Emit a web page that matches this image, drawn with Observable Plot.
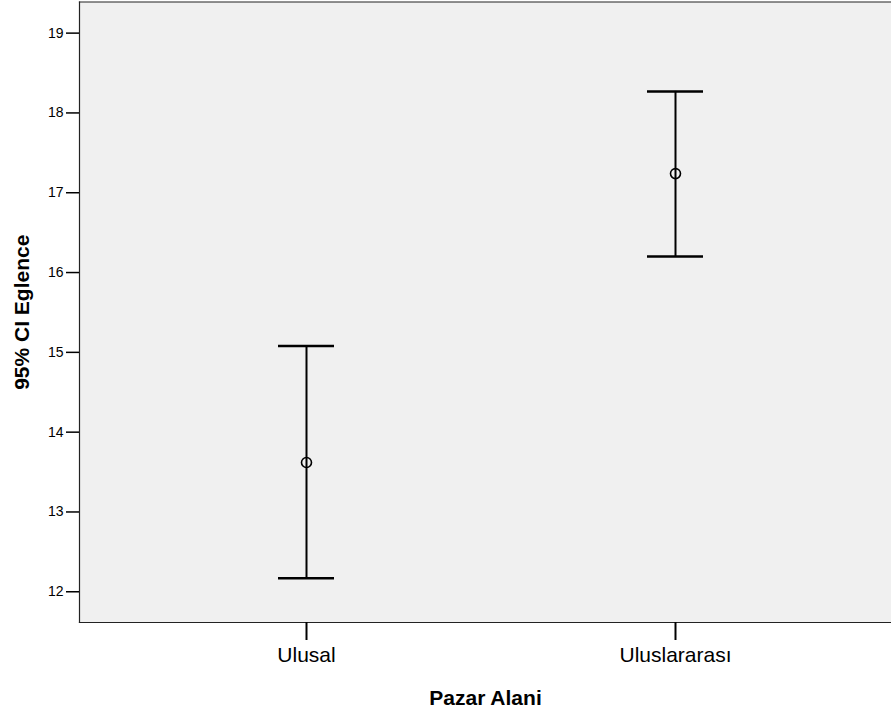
<!DOCTYPE html>
<html>
<head>
<meta charset="utf-8">
<script src="https://cdn.jsdelivr.net/npm/d3@7"></script>
<script src="https://cdn.jsdelivr.net/npm/@observablehq/plot@0.6"></script>
<style>
  html, body { margin: 0; padding: 0; background: #fff; }
  #chart svg { display: block; }
</style>
</head>
<body>
<div id="chart"></div>
<script>
const categories = ["Ulusal", "Uluslararası"];
const means = [13.62, 17.24];
const lower = [12.17, 16.20];
const upper = [15.08, 18.27];
const yTicks = [12, 13, 14, 15, 16, 17, 18, 19];

const data = categories.map((c, i) => ({cat: c, mean: means[i], lo: lower[i], hi: upper[i]}));

const chart = Plot.plot({
  width: 891,
  height: 713,
  marginLeft: 79,
  marginRight: 0,
  marginTop: 1.5,
  marginBottom: 91,
  style: {fontFamily: "'Liberation Sans', Arial, sans-serif", background: "#fff"},
  x: {type: "band", domain: categories, paddingInner: 0.8486, paddingOuter: 0.5216, align: 0.513},
  y: {domain: [11.615, 19.39]},
  marks: [
    Plot.frame({fill: "#f0f0f0", stroke: "none"}),
    Plot.frame({anchor: "left", stroke: "#222", strokeWidth: 1.2}),
    Plot.frame({anchor: "top", stroke: "#222", strokeWidth: 1.2}),
    Plot.frame({anchor: "bottom", stroke: "#222", strokeWidth: 1.2}),
    Plot.axisY({ticks: yTicks, tickSize: 13, tickPadding: 3, fontSize: 14, tickFormat: d => d, stroke: "#000", strokeWidth: 1.5,
      label: "95% CI Eglence", labelAnchor: "center", labelArrow: false, labelOffset: 65}),
    Plot.axisX({tickSize: 18, tickPadding: 7, fontSize: 21, stroke: "#000", strokeWidth: 2,
      label: "Pazar Alani", labelAnchor: "center", labelArrow: false, labelOffset: 82}),
    Plot.ruleX(data, {x: "cat", y1: "lo", y2: "hi", stroke: "#000", strokeWidth: 2}),
    Plot.tickY(data, {x: "cat", y: "lo", stroke: "#000", strokeWidth: 2.5}),
    Plot.tickY(data, {x: "cat", y: "hi", stroke: "#000", strokeWidth: 2.5}),
    Plot.dot(data, {x: "cat", y: "mean", r: 5, stroke: "#000", strokeWidth: 1.6, fill: "none"})
  ]
});

chart.querySelectorAll("g[aria-label$='axis label'] text").forEach(t => {
  t.setAttribute("font-weight", "bold");
  t.setAttribute("font-size", "21");
  t.setAttribute("fill", "#000");
});
chart.querySelectorAll("g[aria-label$='axis label']").forEach(g => {
  g.setAttribute("font-size", "21");
  g.setAttribute("font-weight", "bold");
});
chart.querySelectorAll("g[aria-label$='tick label'] text").forEach(t => t.setAttribute("fill", "#000"));
document.getElementById("chart").appendChild(chart);
</script>
</body>
</html>
